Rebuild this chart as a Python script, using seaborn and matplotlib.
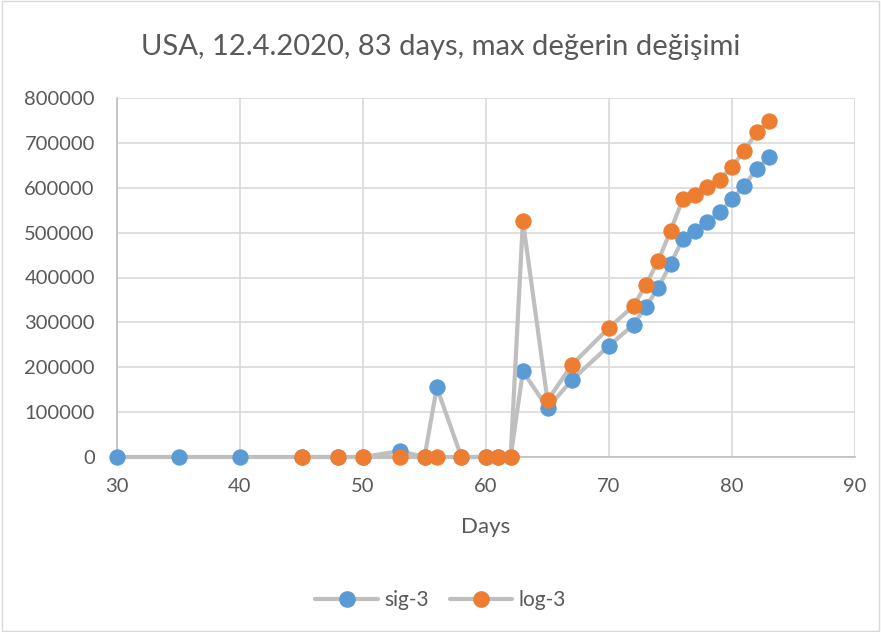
import matplotlib
matplotlib.use("Agg")
import matplotlib.pyplot as plt
import seaborn as sns
import pandas as pd
from matplotlib.lines import Line2D
from matplotlib.patches import Rectangle

sig_days = [30, 35, 40, 45, 48, 50, 53, 55, 56, 58, 60, 61, 62, 63, 65, 67, 70,
            72, 73, 74, 75, 76, 77, 78, 79, 80, 81, 82, 83]
sig_vals = [0, 0, 0, 0, 0, 0, 13000, 0, 155000, 0, 0, 0, 0, 191000, 109000, 172000, 248000,
            295000, 335000, 377000, 430000, 486000, 504000, 524000, 545000, 574000, 605000, 641000, 668000]

log_days = [45, 48, 50, 53, 55, 56, 58, 60, 61, 62, 63, 65, 67, 70,
            72, 73, 74, 75, 76, 77, 78, 79, 80, 81, 82, 83]
log_vals = [0, 0, 0, 0, 0, 0, 0, 0, 0, 0, 526000, 126000, 206000, 288000,
            337000, 384000, 437000, 504000, 575000, 584000, 601000, 618000, 647000, 682000, 724000, 748000]

title = "USA, 12.4.2020, 83 days, max değerin değişimi"
x_label = "Days"
series_names = ["sig-3", "log-3"]

sns.set_theme(style="white")
plt.rcParams['font.family'] = ['Lato', 'DejaVu Sans']

fig = plt.figure(figsize=(8.81, 6.32), dpi=100)
ax = fig.add_axes([117/881, 1 - 457/632, (855-117)/881, (457-98)/632])

line_col = "#bfbfbf"
colors = ["#5b9bd5", "#ed7d31"]
df1 = pd.DataFrame({"day": sig_days, "val": sig_vals})
df2 = pd.DataFrame({"day": log_days, "val": log_vals})
for df, c in zip([df1, df2], colors):
    sns.lineplot(data=df, x="day", y="val", ax=ax, sort=False, color=line_col, lw=3,
                 marker="o", markersize=11, markerfacecolor=c, markeredgecolor=c,
                 zorder=3, clip_on=False)

ax.set_xlim(30, 90)
ax.set_ylim(0, 800000)
ax.set_xticks(range(30, 91, 10))
ax.set_yticks(range(0, 800001, 100000))
ax.set_yticklabels([str(v) for v in range(0, 800001, 100000)])
ax.grid(True, color="#d9d9d9", lw=1.2)
for s in ["top", "right"]:
    ax.spines[s].set_visible(False)
for s in ["left", "bottom"]:
    ax.spines[s].set_color("#bfbfbf")
    ax.spines[s].set_linewidth(1.2)
ax.tick_params(axis="both", labelsize=14.5, colors="#595959", length=0)
ax.tick_params(axis="y", pad=16)
ax.tick_params(axis="x", pad=15)
ax.set_xlabel(x_label, fontsize=16, color="#595959", labelpad=16)
ax.set_ylabel("")

fig.suptitle(title, y=1 - 47/632, va="center", fontsize=21, color="#595959")

handles = [Line2D([0], [0], color=line_col, lw=3, marker="o", markersize=11,
                  markerfacecolor=c, markeredgecolor=c) for c in colors]
fig.legend(handles, series_names, loc="center", bbox_to_anchor=(0.5, 1 - 600/632),
           ncol=2, frameon=False, fontsize=15, labelcolor="#595959",
           handlelength=3, columnspacing=1.0, handletextpad=0.3)

fig.add_artist(Rectangle((0.002, 0.002), 0.996, 0.996, transform=fig.transFigure,
                         fill=False, edgecolor="#d9d9d9", lw=1))

fig.savefig("out.png", dpi=100)
